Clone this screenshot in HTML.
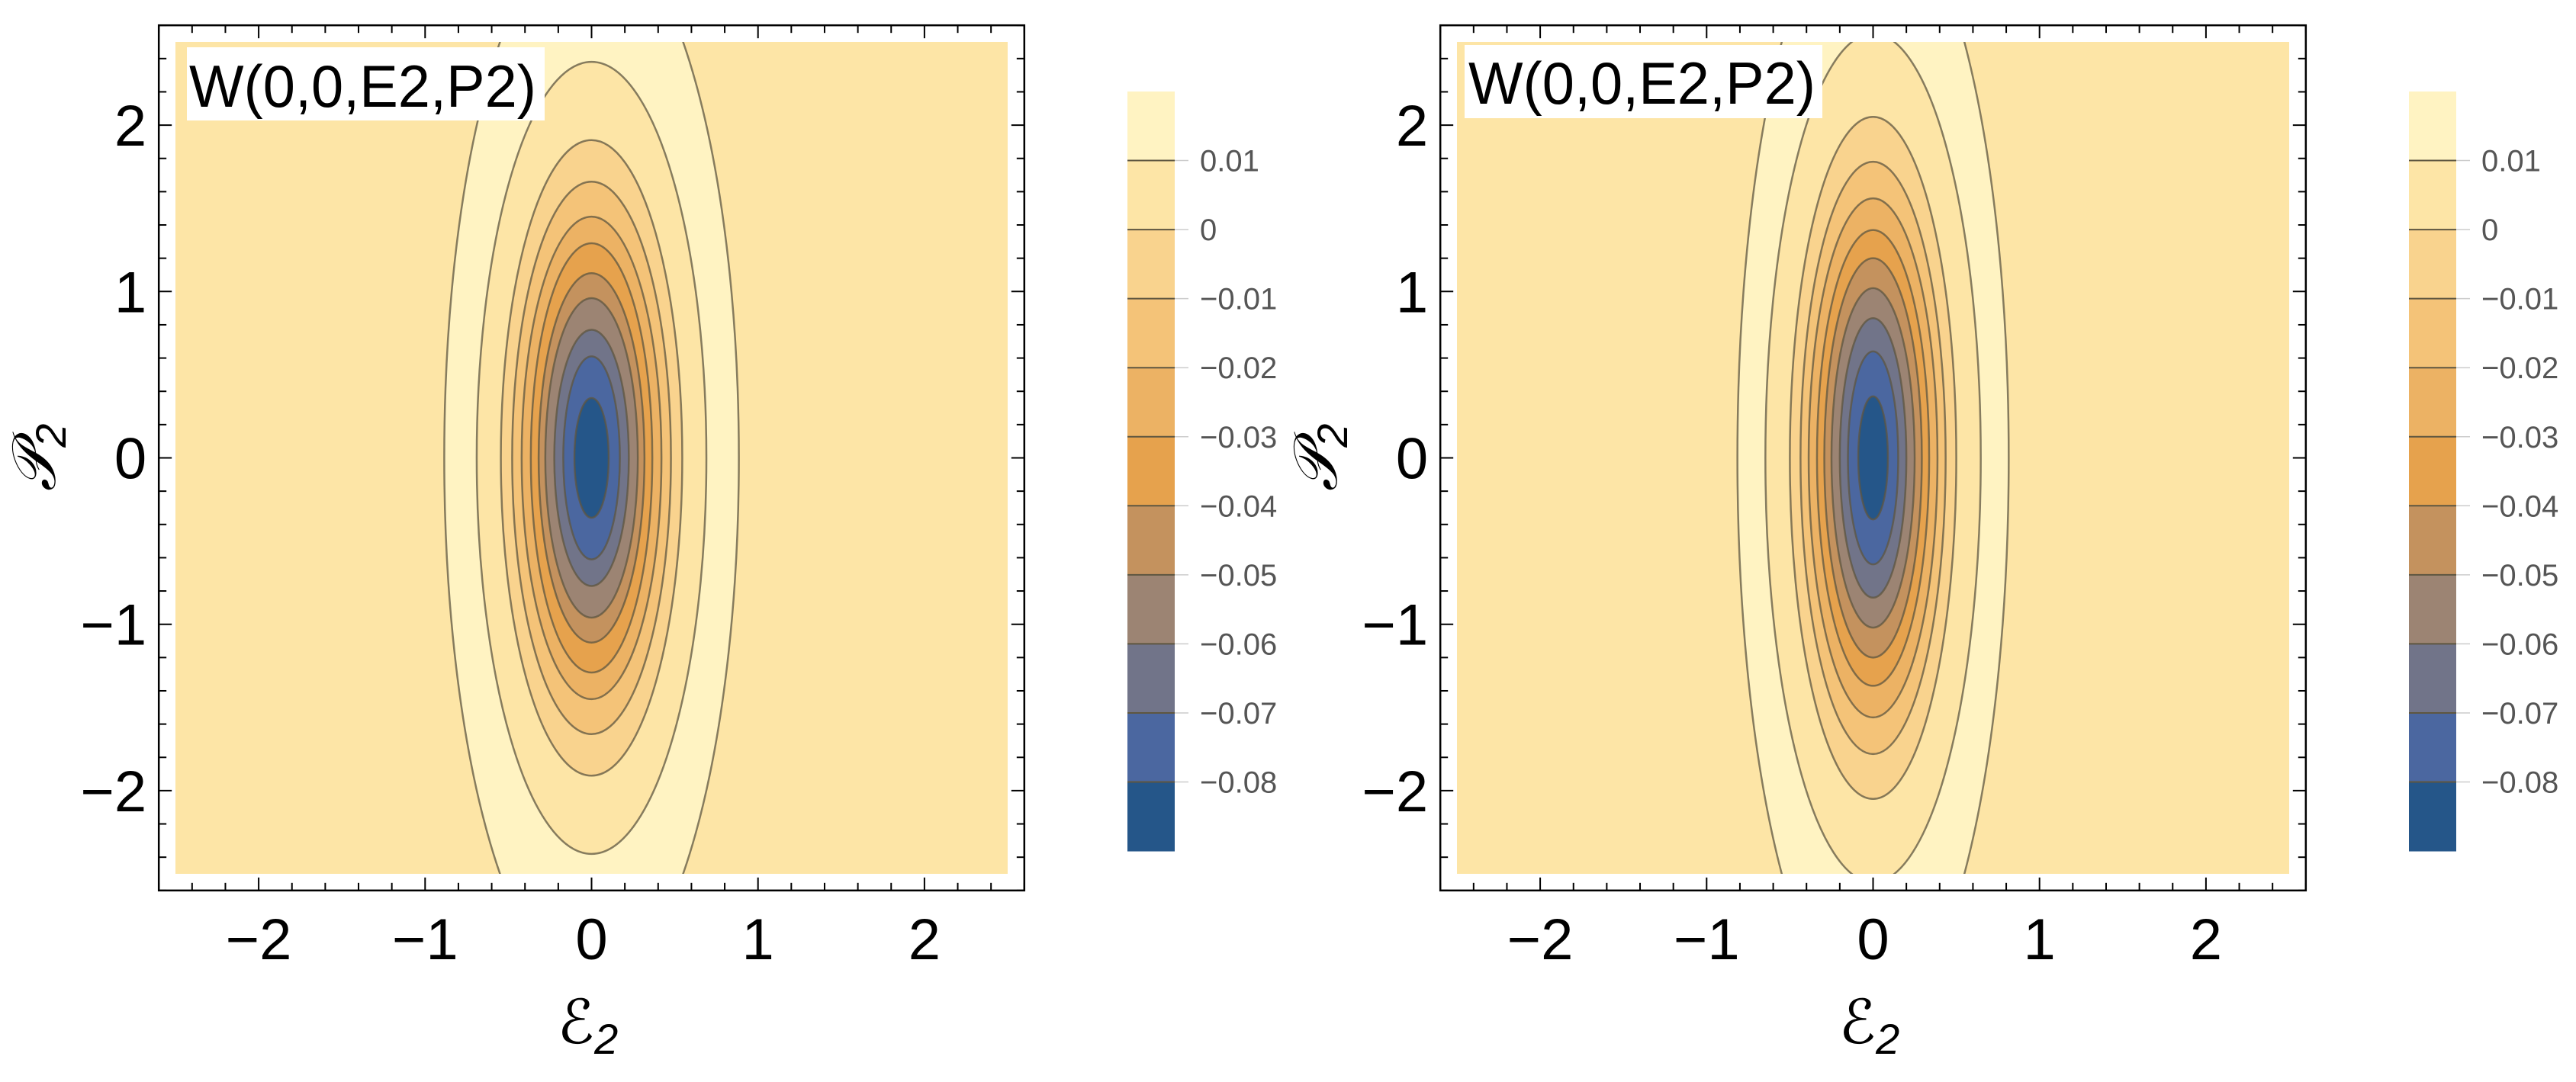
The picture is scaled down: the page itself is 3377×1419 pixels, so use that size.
<!DOCTYPE html>
<html><head><meta charset="utf-8">
<style>
html,body{margin:0;padding:0;background:#fff;}
svg{display:block;}
text{font-family:"Liberation Sans","DejaVu Sans",sans-serif;}
</style></head>
<body>
<svg id="fig" width="3377" height="1419" viewBox="0 0 3377 1419" xmlns="http://www.w3.org/2000/svg"></svg>
<script>
// ---- data ----
const cbLabels = ["0.01","0","\u22120.01","\u22120.02","\u22120.03","\u22120.04","\u22120.05","\u22120.06","\u22120.07","\u22120.08"];
const bandColors = ["#fff3c2","#fde5a6","#f9d38e","#f4c378","#ecb264","#e6a24d","#c4925e","#9c8473","#717489","#4b67a0","#255689"];
// contour half-widths / half-heights (outer -> inner), data units
const leftWidths  = [0.885,0.69,0.545,0.477,0.42,0.365,0.318,0.278,0.224,0.17,0.103];
const leftHeights = [3.19,2.38,1.91,1.66,1.45,1.29,1.11,0.96,0.77,0.61,0.36];
const rightWidths  = [0.815,0.647,0.50,0.436,0.387,0.337,0.293,0.25,0.2,0.151,0.089];
const rightHeights = [3.38,2.55,2.05,1.78,1.56,1.37,1.20,1.02,0.84,0.64,0.37];
const xTicks = [-2,-1,0,1,2];
const yTicks = [-2,-1,0,1,2];
const tickLabels = ["\u22122","\u22121","0","1","2"];

const NS = "http://www.w3.org/2000/svg";
const svg = document.getElementById("fig");
function mk(tag, attrs, parent){
  const e = document.createElementNS(NS, tag);
  for (const k in attrs) e.setAttribute(k, attrs[k]);
  (parent||svg).appendChild(e);
  return e;
}
const S = 218.2;

function panel(idx, off, widths, heights){
  const cx0 = 775.5 + off, cy0 = 600.5;
  const xs = v => cx0 + v*S;
  const ys = v => cy0 - v*S;
  const g = mk("g", {});
  
  
  const clipId = "clip"+idx;
  const defs = mk("defs", {}, g);
  const cp = mk("clipPath", {id: clipId}, defs);
  mk("rect", {x: xs(-2.5), y: ys(2.5), width: 5*S, height: 5*S}, cp);
  const bg = mk("rect", {x: xs(-2.5), y: ys(2.5), width: 5*S, height: 5*S, fill: "#fde5a6"}, g);
  
  
  const cg = mk("g", {"clip-path": "url(#"+clipId+")"}, g);
  for (let i = 0; i < widths.length; i++){
    const el = mk("ellipse", {cx: xs(0), cy: ys(0), rx: widths[i]*S, ry: heights[i]*S,
      fill: bandColors[i], stroke: "#5e5640", "stroke-opacity": "0.75", "stroke-width": "2.5"}, cg);
    
    
  }
  const fr = mk("rect", {x: xs(-2.6), y: ys(2.6), width: 5.2*S, height: 5.2*S, fill: "none", stroke: "#000", "stroke-width": "2.5"}, g);
  
  
  for (let k = -13; k <= 13; k++){
    const v = k*0.2;
    const major = (k % 5 === 0);
    const L = major ? 17 : 10;
    const p = xs(v), q = ys(v);
    mk("line", {x1:p, y1:ys(-2.6), x2:p, y2:ys(-2.6)-L, stroke:"#000","stroke-width":2}, g);
    mk("line", {x1:p, y1:ys(2.6), x2:p, y2:ys(2.6)+L, stroke:"#000","stroke-width":2}, g);
    mk("line", {x1:xs(-2.6), y1:q, x2:xs(-2.6)+L, y2:q, stroke:"#000","stroke-width":2}, g);
    mk("line", {x1:xs(2.6), y1:q, x2:xs(2.6)-L, y2:q, stroke:"#000","stroke-width":2}, g);
  }
  xTicks.forEach((v,i)=>{
    const t = mk("text", {x: xs(v), y: 1258, "font-size": 76, "text-anchor": "middle", fill:"#000"}, g);
    t.textContent = tickLabels[i];
    
    
  });
  yTicks.forEach((v,i)=>{
    const t = mk("text", {x: xs(-2.6)-16, y: ys(v)+27, "font-size": 76, "text-anchor": "end", fill:"#000"}, g);
    t.textContent = tickLabels[i];
    
    
  });
  const xt = mk("text", {x: xs(0)-5, y: 1368, "font-size": 80, "font-style":"italic", "text-anchor":"middle", "font-family":"'DejaVu Serif','Liberation Serif',serif"}, g);
  xt.innerHTML = "\u2130<tspan font-size='56' dy='14'>2</tspan>";
  
  
  const yt = mk("text", {x: 0, y: 0, "font-size": 80, "font-style":"italic", "text-anchor":"middle", "font-family":"'DejaVu Serif','Liberation Serif',serif", transform: "translate("+(off+72)+",600) rotate(-90)"}, g);
  yt.innerHTML = "\uD835\uDCAB<tspan font-size='56' dy='14'>2</tspan>";
  
  
  const bx = mk("rect", {x: 245+off - (idx?5:0), y: idx?59:62, width: 469, height: 96, fill:"#fff"}, g);
  
  
  const lt = mk("text", {x: 248+off - (idx?3:0), y: idx?136:140, "font-size": 78, fill:"#000", textLength: 455, lengthAdjust:"spacingAndGlyphs"}, g);
  lt.textContent = "W(0,0,E2,P2)";
  
  
  const cbx = 1478 + off, cbTop = 120, bh = 90.55;
  const cb = mk("g", {}, g);
  
  
  bandColors.forEach((c,i)=>{
    const r = mk("rect", {x: cbx, y: cbTop + i*bh, width: 62, height: bh+0.5, fill: c}, cb);
    
    
  });
  cbLabels.forEach((s,i)=>{
    const yy = cbTop + (i+1)*bh;
    mk("line", {x1: cbx, y1: yy, x2: cbx+62, y2: yy, stroke:"#5e5640", "stroke-width":2}, cb);
    mk("line", {x1: cbx+62, y1: yy, x2: cbx+80, y2: yy, stroke:"#ccc", "stroke-width":1.5}, cb);
    const t = mk("text", {x: cbx+95, y: yy+14, "font-size": 40, fill:"#555"}, cb);
    t.textContent = s;
    
    
  });
}
panel(0, 0, leftWidths, leftHeights);
panel(1, 1680, rightWidths, rightHeights);
</script>
</body></html>
